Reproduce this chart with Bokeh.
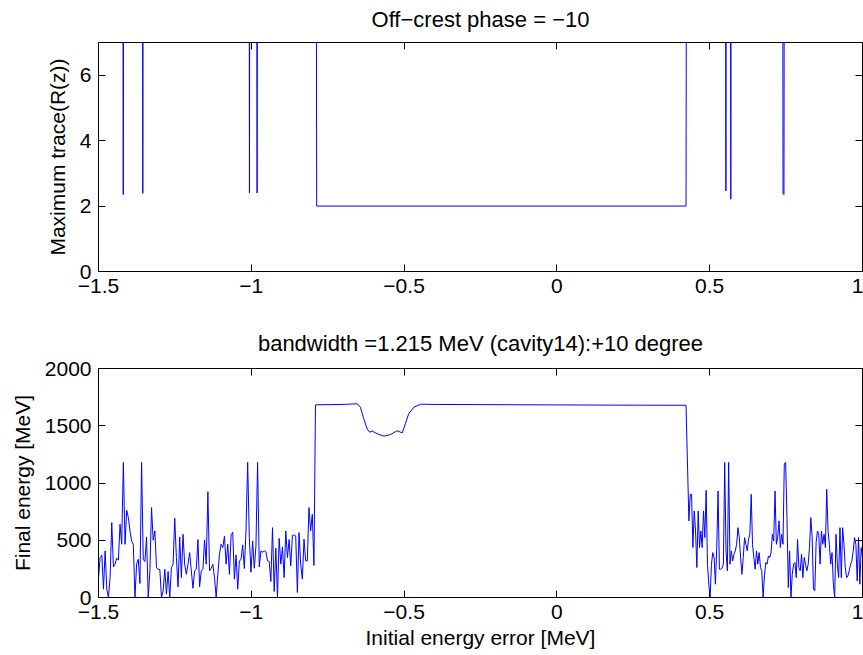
import numpy as np
from bokeh.plotting import figure
from bokeh.models import Range1d, LinearAxis, FixedTicker, Label
from bokeh.layouts import column
from bokeh.embed import file_html
from bokeh.resources import INLINE

# ---------------- data ----------------
x_ticks = [-1.5, -1.0, -0.5, 0.0, 0.5, 1.0]
x_tick_labels = ["\u22121.5", "\u22121", "\u22120.5", "0", "0.5", "1"]
top_y_ticks = [0, 2, 4, 6]
bot_y_ticks = [0, 500, 1000, 1500, 2000]

# top panel: maximum trace of R(z); values far above the axis limit are off-scale
HIGH = 30.0
trace_x = [-1.5, -1.4225, -1.419, -1.4155, -1.3585, -1.355, -1.3515,
           -1.0095, -1.006, -1.0025, -0.9845, -0.981, -0.9775,
           -0.7905, -0.786, 0.4225, 0.427,
           0.5495, 0.553, 0.5565, 0.5655, 0.569, 0.5725,
           0.7365, 0.740, 0.743, 0.7465, 1.0]
trace_y = [HIGH, HIGH, 2.35, HIGH, HIGH, 2.39, HIGH,
           HIGH, 2.40, HIGH, HIGH, 2.40, HIGH,
           HIGH, 2.0, 2.0, HIGH,
           HIGH, 2.46, HIGH, HIGH, 2.21, HIGH,
           HIGH, 2.39, 2.35, HIGH, HIGH]

# bottom panel: final energy [MeV]
left_noise_start, left_noise_end = -1.5, -0.795
left_noise = [174, 349, 372, 73, 407, 73, 0, 174, 654, 267,
              291, 343, 326, 640, 465, 1180, 465, 762, 698, 581,
              494, 465, 0, 291, 334, 122, 1180, 334, 314, 529,
              0, 233, 785, 500, 581, 262, 244, 247, 0, 58,
              247, 29, 227, 0, 262, 291, 692, 349, 93, 529,
              174, 552, 291, 203, 291, 392, 233, 81, 233, 247,
              506, 93, 233, 250, 503, 291, 924, 233, 256, 291,
              174, 0, 203, 378, 465, 436, 535, 291, 465, 203,
              547, 570, 160, 372, 73, 320, 331, 459, 253, 581,
              1180, 523, 221, 494, 256, 448, 1180, 267, 407, 395,
              407, 401, 320, 314, 140, 610, 52, 430, 0, 517,
              291, 442, 174, 581, 349, 506, 276, 541, 547, 538,
              44, 567, 291, 160, 509, 320, 320, 785, 581, 727,
              280]

plateau_x = [-0.790, -0.787, -0.70, -0.653, -0.643, -0.632, -0.621, -0.613,
             -0.604, -0.588, -0.566, -0.544, -0.523, -0.506, -0.496, -0.485,
             -0.468, -0.446, -0.40, -0.2, 0.0, 0.2, 0.4, 0.4225]
plateau_y = [1683, 1683, 1686, 1692, 1662, 1561, 1473, 1444,
             1453, 1430, 1409, 1424, 1456, 1438, 1517, 1604,
             1662, 1688, 1686, 1684, 1682, 1680, 1679, 1679]

right_noise_start, right_noise_end = 0.432, 1.0
right_noise = [669, 901, 901, 436, 756, 581, 262, 756, 436, 581,
               436, 756, 523, 936, 291, 116, 0, 291, 392, 349,
               116, 436, 930, 247, 247, 256, 291, 1180, 407, 233,
               1180, 291, 407, 320, 378, 407, 465, 610, 523, 349,
               203, 349, 523, 465, 407, 509, 552, 901, 465, 349,
               247, 407, 291, 392, 262, 233, 0, 189, 305, 291,
               363, 349, 392, 552, 494, 930, 465, 523, 669, 436,
               552, 465, 1170, 1180, 698, 87, 407, 0, 203, 291,
               305, 174, 506, 262, 233, 378, 174, 349, 291, 233,
               291, 436, 698, 523, 73, 58, 480, 581, 552, 291,
               581, 465, 552, 436, 945, 581, 465, 291, 392, 116,
               0, 552, 291, 174, 610, 174, 610, 465, 262, 174,
               189, 233, 291, 320, 407, 523, 465, 145, 523, 116,
               436, 349]

energy_x = (list(np.linspace(left_noise_start, left_noise_end, len(left_noise)))
            + plateau_x
            + list(np.linspace(right_noise_start, right_noise_end, len(right_noise))))
energy_y = left_noise + plateau_y + right_noise

top_title = "Off\u2212crest phase = \u221210"
bottom_title = "bandwidth =1.215 MeV (cavity14):+10 degree"

# ---------------- styling helpers ----------------
FONT = "Liberation Sans"
FS = "21px"
TFS = "22px"
BLUE = "#0000ff"
X_MIN, X_MAX = -1.5, 1.0
W = 863
LEFT = 98


def title_fig(text, height, center_from_top):
    # a thin text-only strip holding a subplot title; its frame lines up with the axes frame
    t = figure(width=W, height=height, output_backend="svg", toolbar_location=None,
               x_range=Range1d(X_MIN, X_MAX), y_range=Range1d(0, height),
               x_axis_type=None, y_axis_type=None,
               min_border_left=LEFT, min_border_right=1, min_border_top=0, min_border_bottom=0)
    t.outline_line_color = None
    t.xgrid.visible = False
    t.ygrid.visible = False
    t.add_layout(Label(x=(X_MIN + X_MAX) / 2, y=height - center_from_top, text=text,
                       text_align="center", text_baseline="middle",
                       text_font=FONT, text_font_size=TFS, text_color="black"))
    return t


def style_axes(p, y_ticks):
    p.xgrid.visible = False
    p.ygrid.visible = False
    p.outline_line_color = "black"
    p.outline_line_width = 1
    p.outline_line_alpha = 1
    xax = p.below[0]
    yax = p.left[0]
    for ax in (xax, yax):
        ax.major_tick_in = 7
        ax.major_tick_out = 0
        ax.minor_tick_line_color = None
        ax.axis_line_color = "black"
        ax.major_tick_line_color = "black"
        ax.major_label_text_font = FONT
        ax.major_label_text_font_size = FS
        ax.major_label_text_color = "black"
        ax.axis_label_text_font = FONT
        ax.axis_label_text_font_size = FS
        ax.axis_label_text_font_style = "normal"
        ax.axis_label_text_color = "black"
    xax.ticker = FixedTicker(ticks=x_ticks)
    xax.major_label_overrides = {t: l for t, l in zip(x_ticks, x_tick_labels)}
    xax.major_label_standoff = 7
    yax.ticker = FixedTicker(ticks=y_ticks)
    yax.major_label_overrides = {t: str(t) for t in y_ticks}
    yax.major_label_standoff = 7
    yax.axis_label_standoff = 8

    right = LinearAxis(ticker=FixedTicker(ticks=y_ticks), major_label_text_font_size="0px",
                       major_tick_in=7, major_tick_out=0, minor_tick_line_color=None,
                       axis_line_color=None, major_label_standoff=0)
    right.major_label_overrides = {t: "" for t in y_ticks}
    p.add_layout(right, "right")
    above = LinearAxis(ticker=FixedTicker(ticks=x_ticks), major_label_text_font_size="0px",
                       major_tick_in=7, major_tick_out=0, minor_tick_line_color=None,
                       axis_line_color=None, major_label_standoff=0)
    above.major_label_overrides = {t: "" for t in x_ticks}
    p.add_layout(above, "above")
    return xax, yax


# ---------------- top ----------------
t1 = title_fig(top_title, 34, 19)
p1 = figure(width=W, height=286, output_backend="svg", toolbar_location=None,
            x_range=Range1d(X_MIN, X_MAX), y_range=Range1d(0, 7),
            min_border_left=LEFT, min_border_right=1, min_border_top=8, min_border_bottom=49)
p1.line(trace_x, trace_y, line_color=BLUE, line_width=1)
x1, y1 = style_axes(p1, top_y_ticks)
y1.axis_label = "Maximum trace(R(z))"

# ---------------- bottom ----------------
t2 = title_fig(bottom_title, 38, 23)
p2 = figure(width=W, height=297, output_backend="svg", toolbar_location=None,
            x_range=Range1d(X_MIN, X_MAX), y_range=Range1d(0, 2000),
            min_border_left=LEFT, min_border_right=1, min_border_top=10, min_border_bottom=58)
p2.line(energy_x, energy_y, line_color=BLUE, line_width=1)
x2, y2 = style_axes(p2, bot_y_ticks)
y2.axis_label = "Final energy [MeV]"
x2.axis_label = "Initial energy error [MeV]"
x2.axis_label_standoff = 4

layout = column(t1, p1, t2, p2, spacing=0)
open("out.html", "w").write(file_html(layout, INLINE))
